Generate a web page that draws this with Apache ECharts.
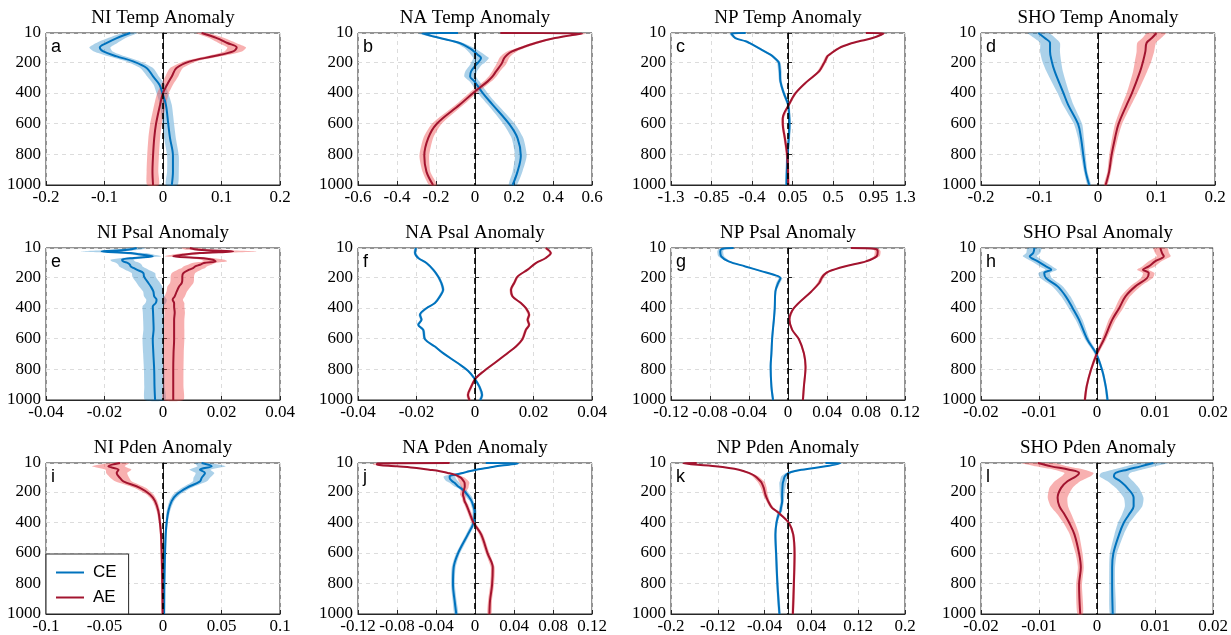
<!DOCTYPE html>
<html>
<head>
<meta charset="utf-8">
<script src="https://cdn.jsdelivr.net/npm/echarts@6/dist/echarts.min.js"></script>
<style>
  html, body { margin: 0; background: #fff; }
  #chart { width: 1231px; height: 635px; }
</style>
</head>
<body>
<div id="chart"></div>
<script>
// ---- data: depth (m) and anomaly profiles, CE = cyclonic, AE = anticyclonic ----
const depthTicks = [10, 200, 400, 600, 800, 1000];

const panelNames = ['NI Temp Anomaly', 'NA Temp Anomaly', 'NP Temp Anomaly', 'SHO Temp Anomaly',
                    'NI Psal Anomaly', 'NA Psal Anomaly', 'NP Psal Anomaly', 'SHO Psal Anomaly',
                    'NI Pden Anomaly', 'NA Pden Anomaly', 'NP Pden Anomaly', 'SHO Pden Anomaly'];
const panelLetters = ['a', 'b', 'c', 'd', 'e', 'f', 'g', 'h', 'i', 'j', 'k', 'l'];

const xTicks = [
  [-0.2, -0.1, 0, 0.1, 0.2],
  [-0.6, -0.4, -0.2, 0, 0.2, 0.4, 0.6],
  [-1.3, -0.85, -0.4, 0.05, 0.5, 0.95, 1.3],
  [-0.2, -0.1, 0, 0.1, 0.2],
  [-0.04, -0.02, 0, 0.02, 0.04],
  [-0.04, -0.02, 0, 0.02, 0.04],
  [-0.12, -0.08, -0.04, 0, 0.04, 0.08, 0.12],
  [-0.02, -0.01, 0, 0.01, 0.02],
  [-0.1, -0.05, 0, 0.05, 0.1],
  [-0.12, -0.08, -0.04, 0, 0.04, 0.08, 0.12],
  [-0.2, -0.12, -0.04, 0.04, 0.12, 0.2],
  [-0.02, -0.01, 0, 0.01, 0.02]
];

// a: NI Temp
const depthA = [10, 43, 75, 104, 130, 162, 195, 238, 293, 347, 402, 478, 604, 695, 809, 913, 1000];
const ceA = [-0.056, -0.079, -0.096, -0.108, -0.102, -0.079, -0.051, -0.028, -0.017, -0.006, -0.001, 0.005, 0.009, 0.012, 0.017, 0.017, 0.015];
const aeA = [0.066, 0.092, 0.11, 0.126, 0.12, 0.086, 0.046, 0.023, 0.015, 0.007, 0.0, -0.005, -0.012, -0.015, -0.017, -0.018, -0.017];
const ceSprA = [0.012, 0.015, 0.018, 0.018, 0.016, 0.014, 0.012, 0.011, 0.01, 0.01, 0.01, 0.01, 0.01, 0.01, 0.01, 0.01, 0.01];
const aeSprA = [0.01, 0.013, 0.015, 0.016, 0.015, 0.013, 0.011, 0.011, 0.011, 0.01, 0.01, 0.01, 0.01, 0.01, 0.01, 0.01, 0.01];

// b: NA Temp
const depthB = [10, 13, 43, 75, 108, 130, 151, 173, 206, 217, 260, 293, 325, 402, 478, 604, 695, 809, 913, 1000];
const ceB = [-0.087, -0.27, -0.18, -0.079, -0.028, -0.005, 0.014, 0.031, 0.014, 0.005, -0.02, -0.025, -0.003, 0.04, 0.091, 0.176, 0.218, 0.235, 0.218, 0.193];
const aeB = [0.13, 0.55, 0.41, 0.31, 0.235, 0.19, 0.165, 0.15, 0.138, 0.133, 0.108, 0.09, 0.065, -0.011, -0.079, -0.198, -0.24, -0.26, -0.249, -0.215];
const ceSprB = [0.01, 0.02, 0.02, 0.02, 0.025, 0.03, 0.035, 0.04, 0.035, 0.03, 0.03, 0.03, 0.025, 0.025, 0.025, 0.03, 0.03, 0.03, 0.025, 0.02];
const aeSprB = [0.01, 0.02, 0.02, 0.02, 0.02, 0.025, 0.025, 0.025, 0.025, 0.025, 0.02, 0.02, 0.02, 0.02, 0.02, 0.025, 0.025, 0.025, 0.02, 0.02];

// c: NP Temp
const depthC = [10, 13, 43, 64, 75, 108, 151, 162, 195, 206, 260, 325, 402, 478, 565, 604, 695, 809, 1000];
const ceC = [-0.47, -0.63, -0.585, -0.47, -0.43, -0.326, -0.195, -0.17, -0.11, -0.1, -0.09, -0.084, -0.047, 0.002, 0.015, 0.017, 0.009, -0.006, -0.017];
const aeC = [0.865, 1.06, 0.94, 0.79, 0.716, 0.567, 0.46, 0.437, 0.41, 0.4, 0.344, 0.214, 0.084, 0.009, -0.058, -0.058, -0.035, -0.009, 0.002];
const ceSprC = [0.01, 0.02, 0.02, 0.02, 0.02, 0.02, 0.02, 0.02, 0.02, 0.02, 0.02, 0.015, 0.015, 0.015, 0.015, 0.015, 0.015, 0.015, 0.015];
const aeSprC = [0.01, 0.02, 0.02, 0.02, 0.02, 0.02, 0.02, 0.02, 0.02, 0.02, 0.02, 0.015, 0.015, 0.015, 0.015, 0.015, 0.015, 0.015, 0.015];

// d: SHO Temp
const depthD = [10, 43, 75, 130, 195, 260, 402, 478, 604, 695, 809, 913, 1000];
const ceD = [-0.102, -0.091, -0.082, -0.082, -0.079, -0.074, -0.059, -0.051, -0.034, -0.029, -0.025, -0.021, -0.015];
const aeD = [0.1, 0.092, 0.083, 0.081, 0.077, 0.072, 0.058, 0.049, 0.035, 0.029, 0.023, 0.019, 0.013];
const ceSprD = [0.018, 0.018, 0.017, 0.017, 0.016, 0.014, 0.01, 0.009, 0.007, 0.005, 0.004, 0.003, 0.003];
const aeSprD = [0.016, 0.016, 0.016, 0.015, 0.014, 0.012, 0.009, 0.008, 0.006, 0.005, 0.004, 0.003, 0.003];

// e: NI Psal
const depthE = [10, 22, 32, 43, 54, 64, 75, 86, 97, 108, 119, 130, 140, 151, 173, 195, 217, 238, 260, 293, 325, 347, 369, 391, 430, 478, 540, 604, 695, 809, 913, 1000];
const ceE = [-0.009, -0.012, -0.021, -0.011, -0.007, -0.0035, -0.01, -0.014, -0.0136, -0.012, -0.0113, -0.011, -0.0101, -0.009, -0.0067, -0.0065, -0.0058, -0.005, -0.0042, -0.0033, -0.003, -0.0022, -0.0025, -0.0035, -0.0034, -0.0033, -0.0032, -0.0035, -0.0033, -0.003, -0.0029, -0.0027];
const aeE = [0.0092, 0.012, 0.024, 0.0126, 0.007, 0.0035, 0.0126, 0.017, 0.018, 0.014, 0.0126, 0.011, 0.0104, 0.009, 0.007, 0.0066, 0.0066, 0.0064, 0.0055, 0.0047, 0.004, 0.0033, 0.0038, 0.0038, 0.004, 0.0038, 0.0038, 0.0038, 0.0036, 0.0035, 0.0035, 0.0035];
const ceSprE = [0.003, 0.004, 0.007, 0.005, 0.004, 0.003, 0.004, 0.004, 0.004, 0.004, 0.004, 0.004, 0.004, 0.004, 0.004, 0.004, 0.004, 0.004, 0.004, 0.0035, 0.0035, 0.0035, 0.0035, 0.0035, 0.0035, 0.0035, 0.0035, 0.0035, 0.0035, 0.0035, 0.0035, 0.0035];
const aeSprE = [0.003, 0.004, 0.008, 0.005, 0.004, 0.003, 0.004, 0.004, 0.004, 0.004, 0.004, 0.004, 0.004, 0.004, 0.004, 0.004, 0.004, 0.004, 0.004, 0.0035, 0.0035, 0.0035, 0.0035, 0.0035, 0.0035, 0.0035, 0.0035, 0.0035, 0.0035, 0.0035, 0.0035, 0.0035];

// f: NA Psal
const depthF = [10, 43, 75, 108, 151, 195, 238, 282, 325, 369, 402, 445, 478, 510, 543, 604, 652, 695, 761, 809, 859, 913, 967, 1000];
const ceF = [-0.0202, -0.0205, -0.0194, -0.0166, -0.0143, -0.0126, -0.0115, -0.0109, -0.012, -0.0137, -0.0166, -0.0188, -0.0183, -0.0194, -0.0177, -0.0171, -0.0137, -0.0109, -0.0058, -0.0024, -0.0002, 0.0015, 0.0024, 0.0018];
const aeF = [0.0242, 0.0259, 0.0242, 0.0208, 0.018, 0.0146, 0.0134, 0.0123, 0.0128, 0.0157, 0.0174, 0.0185, 0.018, 0.0185, 0.0174, 0.0162, 0.014, 0.0111, 0.0066, 0.0032, 0.0002, -0.0013, -0.0024, -0.0019];
const ceSprF = [0.0005, 0.0005, 0.0005, 0.0005, 0.0005, 0.0005, 0.0005, 0.0005, 0.0005, 0.0005, 0.0005, 0.0005, 0.0005, 0.0005, 0.0005, 0.0005, 0.0005, 0.0005, 0.0005, 0.0005, 0.0005, 0.0005, 0.0005, 0.0005];
const aeSprF = [0.0005, 0.0005, 0.0005, 0.0005, 0.0005, 0.0005, 0.0005, 0.0005, 0.0005, 0.0005, 0.0005, 0.0005, 0.0005, 0.0005, 0.0005, 0.0005, 0.0005, 0.0005, 0.0005, 0.0005, 0.0005, 0.0005, 0.0005, 0.0005];

// g: NP Psal
const depthG = [10, 16, 32, 64, 97, 130, 162, 184, 206, 238, 293, 402, 478, 543, 604, 695, 783, 913, 1000];
const ceG = [-0.0558, -0.068, -0.0695, -0.0685, -0.061, -0.0438, -0.0266, -0.0146, -0.0077, -0.0101, -0.0129, -0.0136, -0.0145, -0.0155, -0.0163, -0.017, -0.0178, -0.017, -0.0153];
const aeG = [0.0644, 0.09, 0.092, 0.091, 0.08, 0.058, 0.042, 0.037, 0.0345, 0.032, 0.024, 0.006, 0.0015, 0.0043, 0.0112, 0.0163, 0.018, 0.0163, 0.0153];
const ceSprG = [0.002, 0.003, 0.003, 0.003, 0.002, 0.002, 0.002, 0.002, 0.002, 0.002, 0.001, 0.001, 0.001, 0.001, 0.001, 0.001, 0.001, 0.001, 0.001];
const aeSprG = [0.002, 0.003, 0.003, 0.003, 0.002, 0.002, 0.002, 0.002, 0.002, 0.002, 0.001, 0.001, 0.001, 0.001, 0.001, 0.001, 0.001, 0.001, 0.001];

// h: SHO Psal
const depthH = [10, 43, 64, 97, 130, 151, 173, 206, 260, 325, 402, 478, 604, 695, 809, 913, 1000];
const ceH = [-0.0108, -0.011, -0.0116, -0.0102, -0.0088, -0.0079, -0.0091, -0.0088, -0.0068, -0.0054, -0.0042, -0.0031, -0.0017, -0.0002, 0.0009, 0.0015, 0.0018];
const aeH = [0.0109, 0.0112, 0.0115, 0.01, 0.0089, 0.0079, 0.0089, 0.0086, 0.0066, 0.0049, 0.0038, 0.0026, 0.0012, 0.0, -0.0011, -0.0018, -0.0021];
const ceSprH = [0.0012, 0.0012, 0.0012, 0.0011, 0.0011, 0.001, 0.001, 0.001, 0.0009, 0.0008, 0.0007, 0.0006, 0.0004, 0.0003, 0.0002, 0.0002, 0.0002];
const aeSprH = [0.0012, 0.0012, 0.0012, 0.0011, 0.0011, 0.001, 0.001, 0.001, 0.0009, 0.0008, 0.0007, 0.0006, 0.0004, 0.0003, 0.0002, 0.0002, 0.0002];

// i: NI Pden
const depthI = [10, 32, 54, 75, 108, 130, 173, 217, 260, 325, 402, 478, 604, 809, 1000];
const ceI = [0.033, 0.0416, 0.0316, 0.0359, 0.033, 0.0316, 0.0202, 0.0117, 0.0074, 0.0046, 0.0031, 0.0023, 0.0017, 0.0011, 0.0009];
const aeI = [-0.0368, -0.0467, -0.038, -0.0396, -0.0368, -0.0339, -0.0197, -0.0111, -0.0068, -0.004, -0.0026, -0.0017, -0.0011, -0.0006, -0.0003];
const ceSprI = [0.006, 0.012, 0.009, 0.008, 0.007, 0.006, 0.004, 0.003, 0.002, 0.0015, 0.001, 0.001, 0.001, 0.001, 0.001];
const aeSprI = [0.008, 0.014, 0.011, 0.009, 0.008, 0.007, 0.005, 0.003, 0.002, 0.0015, 0.001, 0.001, 0.001, 0.001, 0.001];

// j: NA Pden
const depthJ = [10, 13, 21, 32, 43, 54, 64, 75, 86, 97, 108, 130, 140, 162, 173, 195, 217, 238, 260, 282, 325, 402, 478, 604, 695, 809, 913, 1000];
const ceJ = [0.011, 0.044, 0.035, 0.0216, 0.012, 0.0012, -0.006, -0.0124, -0.02, -0.026, -0.026, -0.0233, -0.021, -0.0175, -0.015, -0.0107, -0.008, -0.0056, -0.0035, -0.0022, -0.0005, -0.0015, -0.0073, -0.0175, -0.0219, -0.0226, -0.0209, -0.0192];
const aeJ = [-0.026, -0.1, -0.1006, -0.08, -0.06, -0.047, -0.036, -0.028, -0.0209, -0.017, -0.0141, -0.0115, -0.0107, -0.0105, -0.0107, -0.0118, -0.0124, -0.0115, -0.0107, -0.009, -0.0063, -0.0015, 0.0063, 0.013, 0.0182, 0.0175, 0.0154, 0.0148];
const ceSprJ = [0.002, 0.004, 0.004, 0.003, 0.003, 0.003, 0.003, 0.004, 0.005, 0.006, 0.006, 0.006, 0.005, 0.004, 0.003, 0.003, 0.003, 0.003, 0.002, 0.002, 0.002, 0.002, 0.002, 0.002, 0.002, 0.002, 0.002, 0.002];
const aeSprJ = [0.002, 0.004, 0.004, 0.003, 0.003, 0.003, 0.003, 0.003, 0.003, 0.003, 0.004, 0.005, 0.005, 0.004, 0.004, 0.003, 0.003, 0.002, 0.002, 0.002, 0.002, 0.002, 0.002, 0.002, 0.002, 0.002, 0.002, 0.002];

// k: NP Pden
const depthK = [10, 12, 32, 54, 75, 97, 130, 140, 173, 217, 260, 304, 325, 347, 402, 478, 604, 809, 1000];
const ceK = [0.064, 0.089, 0.064, 0.024, 0.0014, -0.0054, -0.008, -0.0089, -0.0095, -0.01, -0.01, -0.012, -0.0129, -0.016, -0.0197, -0.0215, -0.0203, -0.018, -0.0146];
const aeK = [-0.156, -0.179, -0.124, -0.084, -0.067, -0.056, -0.047, -0.045, -0.0415, -0.0386, -0.034, -0.0272, -0.02, -0.0129, 0.0014, 0.0089, 0.0112, 0.01, 0.0083];
const ceSprK = [0.003, 0.004, 0.004, 0.004, 0.005, 0.006, 0.006, 0.006, 0.005, 0.004, 0.003, 0.003, 0.003, 0.003, 0.002, 0.002, 0.002, 0.002, 0.002];
const aeSprK = [0.003, 0.004, 0.004, 0.004, 0.004, 0.005, 0.006, 0.006, 0.005, 0.004, 0.003, 0.003, 0.003, 0.003, 0.002, 0.002, 0.002, 0.002, 0.002];

// l: SHO Pden
const depthL = [10, 32, 54, 75, 97, 130, 173, 238, 293, 347, 402, 478, 604, 695, 809, 1000];
const ceL = [0.0097, 0.0075, 0.0052, 0.0032, 0.0029, 0.004, 0.0052, 0.0063, 0.0063, 0.0055, 0.0046, 0.0038, 0.0028, 0.0026, 0.0026, 0.0027];
const aeL = [-0.0102, -0.0079, -0.0048, -0.0031, -0.0036, -0.0051, -0.0062, -0.0068, -0.0065, -0.0056, -0.0048, -0.0039, -0.0031, -0.0028, -0.0031, -0.0029];
const ceSprL = [0.0025, 0.0025, 0.0025, 0.0025, 0.0025, 0.0022, 0.002, 0.0017, 0.0015, 0.0012, 0.001, 0.0008, 0.0006, 0.0005, 0.0005, 0.0005];
const aeSprL = [0.0028, 0.0027, 0.0026, 0.0025, 0.0025, 0.0022, 0.002, 0.0017, 0.0015, 0.0012, 0.001, 0.0008, 0.0006, 0.0005, 0.0005, 0.0005];

const profiles = [
  [depthA, ceA, aeA, ceSprA, aeSprA], [depthB, ceB, aeB, ceSprB, aeSprB],
  [depthC, ceC, aeC, ceSprC, aeSprC], [depthD, ceD, aeD, ceSprD, aeSprD],
  [depthE, ceE, aeE, ceSprE, aeSprE], [depthF, ceF, aeF, ceSprF, aeSprF],
  [depthG, ceG, aeG, ceSprG, aeSprG], [depthH, ceH, aeH, ceSprH, aeSprH],
  [depthI, ceI, aeI, ceSprI, aeSprI], [depthJ, ceJ, aeJ, ceSprJ, aeSprJ],
  [depthK, ceK, aeK, ceSprK, aeSprK], [depthL, ceL, aeL, ceSprL, aeSprL]
];

// ---- layout ----
const colLeft = [46, 358, 671, 981];
const rowTop = [33, 248, 463];
const plotW = 234, plotH = 152;

const CE_COLOR = '#0072BD', AE_COLOR = '#A2142F';
const CE_BAND = 'rgba(0,114,189,0.33)', AE_BAND = 'rgba(240,80,80,0.45)';
const SERIF = '"Liberation Serif", "Times New Roman", serif';
const SANS = '"Liberation Sans", Arial, sans-serif';

const chart = echarts.init(document.getElementById('chart'));

const grids = [], xAxes = [], yAxes = [], titles = [], series = [];

function bandSeries(k, depth, mean, spr, color) {
  return {
    type: 'custom',
    xAxisIndex: k,
    yAxisIndex: k,
    silent: true,
    z: 1,
    data: [[mean[0], depth[0]]],
    renderItem: function (params, api) {
      const pts = [];
      for (let i = 0; i < depth.length; i++) pts.push(api.coord([mean[i] - spr[i], depth[i]]));
      for (let i = depth.length - 1; i >= 0; i--) pts.push(api.coord([mean[i] + spr[i], depth[i]]));
      return {
        type: 'polygon',
        shape: { points: pts, smooth: 0.2 },
        style: { fill: color }
      };
    }
  };
}

profiles.forEach(function (p, k) {
  const row = Math.floor(k / 4), col = k % 4;
  const depth = p[0], ce = p[1], ae = p[2], ceSpr = p[3], aeSpr = p[4];
  const xt = xTicks[k];

  grids.push({
    left: colLeft[col], top: rowTop[row], width: plotW, height: plotH,
    show: true, borderColor: '#262626', borderWidth: 1, backgroundColor: '#fff'
  });

  xAxes.push({
    gridIndex: k, type: 'value',
    min: xt[0], max: xt[xt.length - 1],
    axisLine: { show: true, lineStyle: { color: '#262626', width: 1 } },
    axisTick: { show: true, inside: true, length: 4, customValues: xt, lineStyle: { color: '#262626' } },
    axisLabel: {
      customValues: xt, margin: 4, color: '#000', fontFamily: SERIF, fontSize: 17,
      formatter: function (v) { return String(+v.toFixed(4)); }
    },
    splitLine: { show: true, lineStyle: { color: '#dcdcdc', type: [4, 4], width: 1 } }
  });

  yAxes.push({
    gridIndex: k, type: 'value', inverse: true,
    min: 10, max: 1000,
    axisLine: { show: true, lineStyle: { color: '#262626', width: 1 } },
    axisTick: { show: true, inside: true, length: 4, customValues: depthTicks, lineStyle: { color: '#262626' } },
    axisLabel: {
      customValues: depthTicks, margin: 5, color: '#000', fontFamily: SERIF, fontSize: 17,
      formatter: function (v) { return String(v); }
    },
    splitLine: { show: true, lineStyle: { color: '#dcdcdc', type: [4, 4], width: 1 } }
  });

  titles.push({
    text: panelNames[k],
    left: colLeft[col] + plotW / 2, top: rowTop[row] - 24,
    textAlign: 'center', padding: 0,
    textStyle: { fontFamily: SERIF, fontSize: 19, fontWeight: 'normal', color: '#000' }
  });
  titles.push({
    text: panelLetters[k],
    left: colLeft[col] + 5, top: rowTop[row] + 5, padding: 0,
    textStyle: { fontFamily: SANS, fontSize: 18, fontWeight: 'normal', color: '#000' }
  });

  series.push(bandSeries(k, depth, ce, ceSpr, CE_BAND));
  series.push(bandSeries(k, depth, ae, aeSpr, AE_BAND));

  series.push({
    name: 'CE', type: 'line', xAxisIndex: k, yAxisIndex: k, z: 3,
    data: depth.map(function (d, i) { return [ce[i], d]; }),
    symbol: 'none', showSymbol: false, smooth: 0.35,
    lineStyle: { color: CE_COLOR, width: 2 }, itemStyle: { color: CE_COLOR },
    markLine: {
      silent: true, symbol: ['none', 'none'], label: { show: false },
      lineStyle: { color: '#000', type: [6, 4], width: 1.6 },
      data: [{ xAxis: 0 }]
    }
  });
  series.push({
    name: 'AE', type: 'line', xAxisIndex: k, yAxisIndex: k, z: 3,
    data: depth.map(function (d, i) { return [ae[i], d]; }),
    symbol: 'none', showSymbol: false, smooth: 0.35,
    lineStyle: { color: AE_COLOR, width: 2 }, itemStyle: { color: AE_COLOR }
  });
});

chart.setOption({
  animation: false,
  backgroundColor: '#fff',
  title: titles,
  grid: grids,
  xAxis: xAxes,
  yAxis: yAxes,
  legend: {
    data: ['CE', 'AE'],
    orient: 'vertical',
    left: 46, top: 554,
    icon: 'rect',
    itemWidth: 28, itemHeight: 2, itemGap: 8,
    padding: [10, 12, 8, 10],
    borderColor: '#262626', borderWidth: 1, borderRadius: 0,
    backgroundColor: '#fff',
    textStyle: { fontFamily: SANS, fontSize: 17, color: '#000', padding: [0, 0, 0, 4] }
  },
  series: series
});
</script>
</body>
</html>
